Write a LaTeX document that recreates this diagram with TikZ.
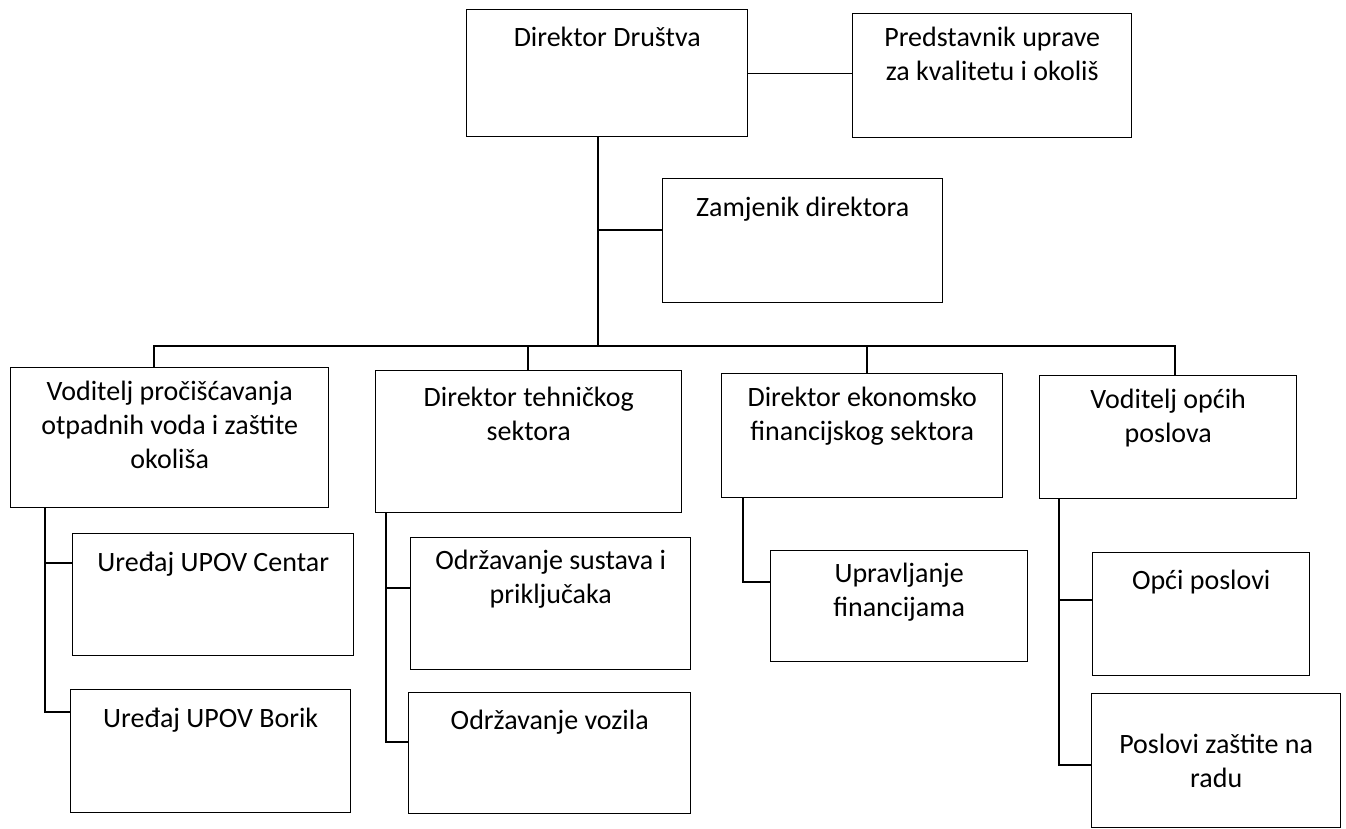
\documentclass[tikz,border=0pt]{standalone}
\usepackage{fontspec}
\setmainfont{Carlito}
\begin{document}
\begin{tikzpicture}[x=1pt,y=-1pt,
  box/.style={draw=black,line width=1.4pt,inner sep=0pt,anchor=north west,fill=none},
  lbl/.style={anchor=north,inner sep=0pt,align=center,font=\fontsize{28}{34}\selectfont,execute at begin node={\strut}},
  conn/.style={draw=black,line width=1.1pt}]
\useasboundingbox (0,0) rectangle (1346,829);
% boxes
\node[box,minimum width=281pt,minimum height=127pt] (dir) at (466,9) {};
\node[box,minimum width=279pt,minimum height=124pt] (pred) at (852,13) {};
\node[box,minimum width=280pt,minimum height=124pt] (zam) at (662,178) {};
\node[box,minimum width=318pt,minimum height=140pt] (vod) at (10,367) {};
\node[box,minimum width=306pt,minimum height=142pt] (teh) at (375,370) {};
\node[box,minimum width=281pt,minimum height=124pt] (eko) at (721,373) {};
\node[box,minimum width=257pt,minimum height=123pt] (vop) at (1039,375) {};
\node[box,minimum width=281pt,minimum height=122pt] (cen) at (72,533) {};
\node[box,minimum width=280pt,minimum height=123pt] (bor) at (70,689) {};
\node[box,minimum width=280pt,minimum height=132pt] (sus) at (410,537) {};
\node[box,minimum width=282pt,minimum height=121pt] (voz) at (408,692) {};
\node[box,minimum width=257pt,minimum height=111pt] (upr) at (770,550) {};
\node[box,minimum width=217pt,minimum height=123pt] (opc) at (1092,552) {};
\node[box,minimum width=249pt,minimum height=134pt] (pzr) at (1091,693) {};
% texts
\node[lbl] (dirT) at ([yshift=-14pt]dir.north) {Direktor Društva};
\node[lbl] (predT) at ([yshift=-14pt]pred.north) {Predstavnik uprave\\za kvalitetu i okoliš};
\node[lbl] (zamT) at ([yshift=-14pt]zam.north) {Zamjenik direktora};
\node[lbl] (vodT) at ([yshift=-14pt]vod.north) {Voditelj pročišćavanja\\otpadnih voda i zaštite\\okoliša};
\node[lbl] (tehT) at ([yshift=-17pt]teh.north) {Direktor tehničkog\\sektora};
\node[lbl] (ekoT) at ([yshift=-14pt]eko.north) {Direktor ekonomsko\\financijskog sektora};
\node[lbl] (vopT) at ([yshift=-14pt]vop.north) {Voditelj općih\\poslova};
\node[lbl] (cenT) at ([yshift=-14pt]cen.north) {Uređaj UPOV Centar};
\node[lbl] (borT) at ([yshift=-14pt]bor.north) {Uređaj UPOV Borik};
\node[lbl] (susT) at ([yshift=-13pt]sus.north) {Održavanje sustava i\\priključaka};
\node[lbl] (vozT) at ([yshift=-13pt]voz.north) {Održavanje vozila};
\node[lbl] (uprT) at ([yshift=-13pt]upr.north) {Upravljanje\\financijama};
\node[lbl] (opcT) at ([yshift=-13pt]opc.north) {Opći poslovi};
\node[lbl] (pzrT) at ([yshift=-41pt]pzr.north) {Poslovi zaštite na\\radu};
% coordinates
\coordinate (bus) at (598,346);
\coordinate (zj) at (598,230);
\coordinate (dA) at (154,346);
\coordinate (dB) at (528,346);
\coordinate (dC) at (867,346);
\coordinate (dD) at (1175,346);
\coordinate (vA) at (45,712);
\coordinate (vA1) at (45,563);
\coordinate (vB) at (386,742);
\coordinate (vB1) at (386,588);
\coordinate (vC) at (743,582);
\coordinate (vD) at (1059,765);
\coordinate (vD1) at (1059,600);
% connectors
\draw[conn] (dir.east) -- (dir.east -| pred.west);
\draw[conn] (dir.south -| bus) -- (bus);
\draw[conn] (zj) -- (zj -| zam.west);
\draw[conn] (dA |- vod.north) -- (dA) -- (dD) -- (dD |- vop.north);
\draw[conn] (dB) -- (dB |- teh.north);
\draw[conn] (dC) -- (dC |- eko.north);
\draw[conn] (vA |- vod.south) -- (vA) -- (vA -| bor.west);
\draw[conn] (vA1) -- (vA1 -| cen.west);
\draw[conn] (vB |- teh.south) -- (vB) -- (vB -| voz.west);
\draw[conn] (vB1) -- (vB1 -| sus.west);
\draw[conn] (vC |- eko.south) -- (vC) -- (vC -| upr.west);
\draw[conn] (vD |- vop.south) -- (vD) -- (vD -| pzr.west);
\draw[conn] (vD1) -- (vD1 -| opc.west);
\end{tikzpicture}
\end{document}
